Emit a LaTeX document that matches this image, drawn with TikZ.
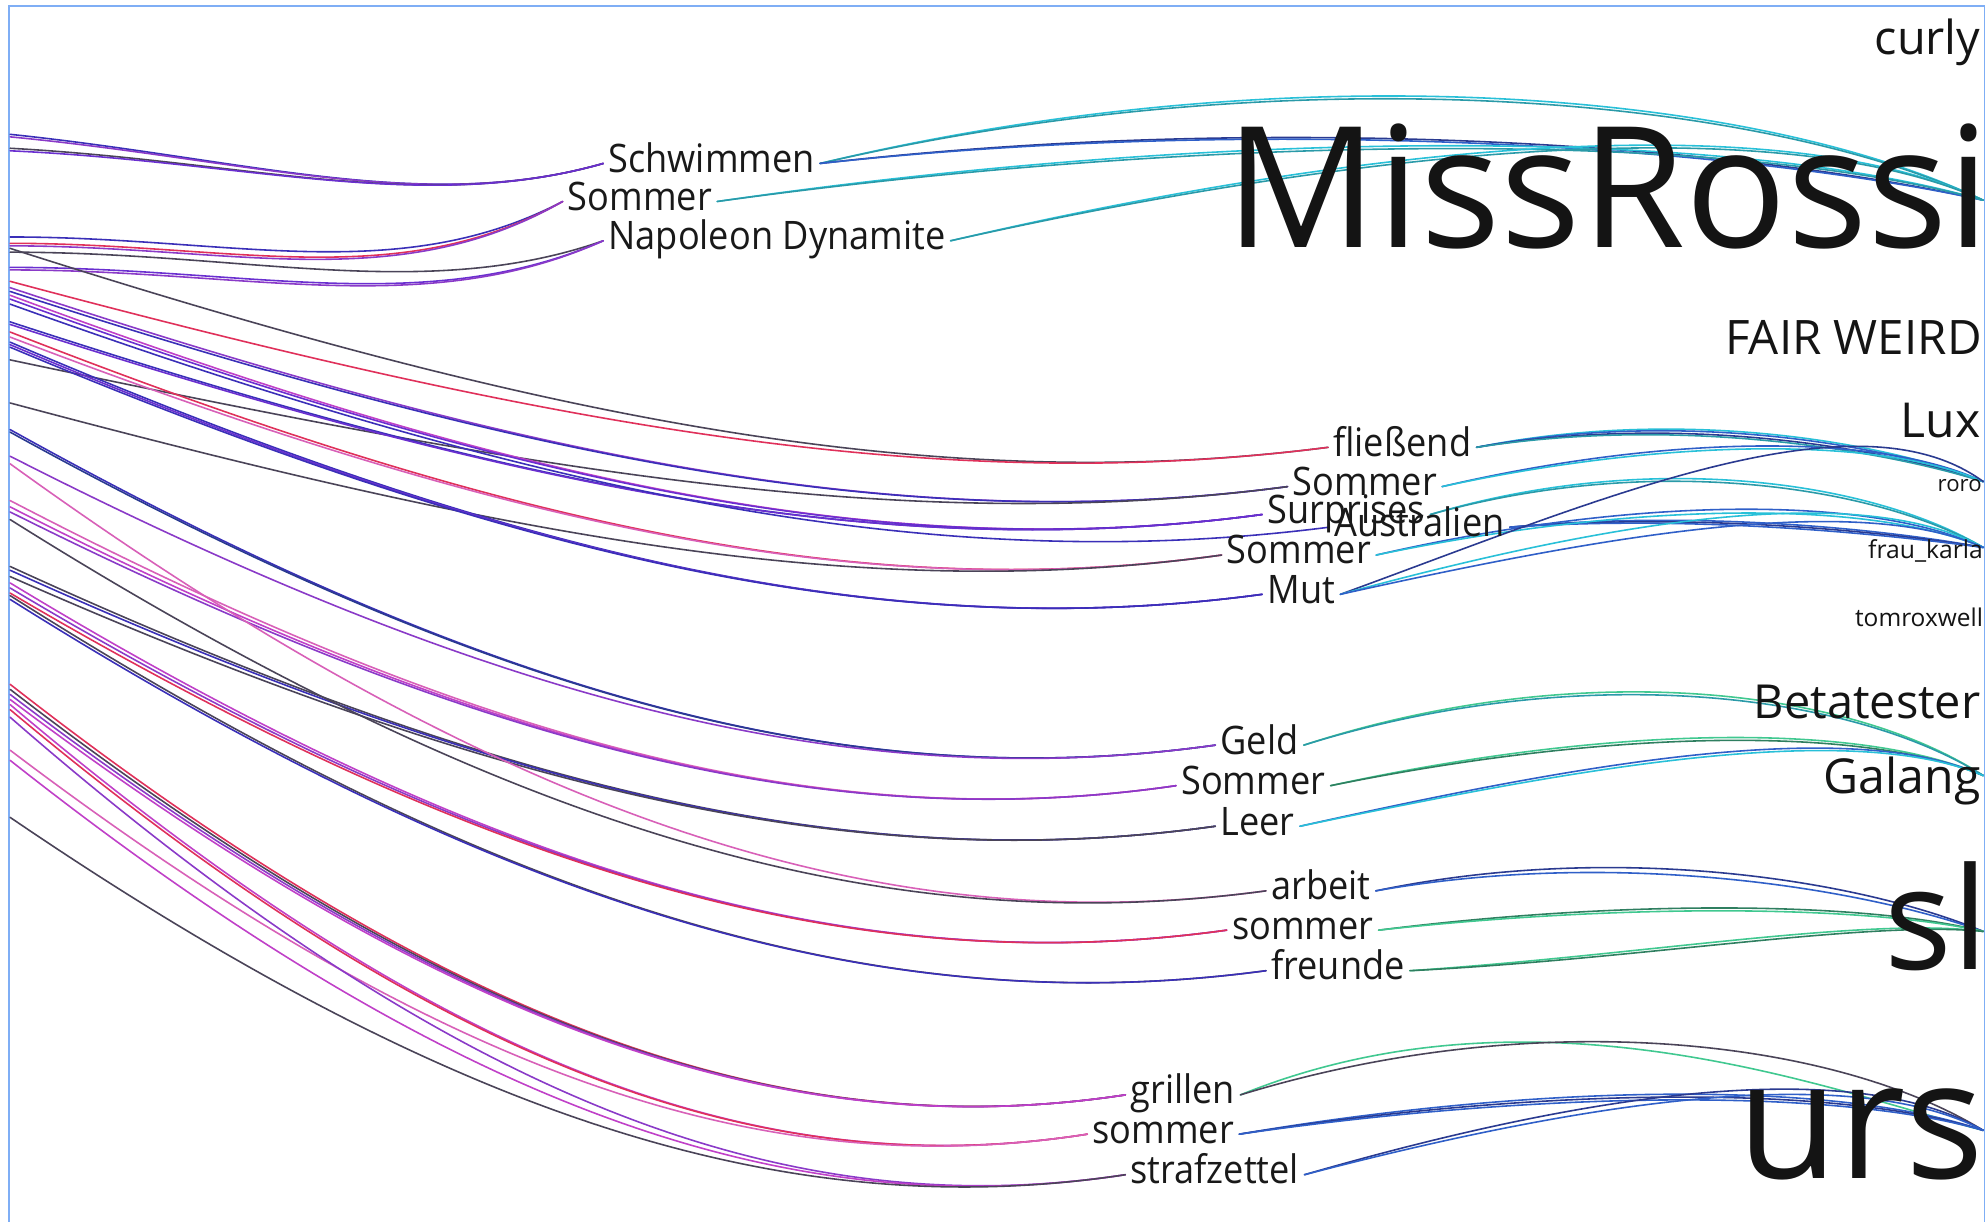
\documentclass[tikz,border=0pt]{standalone}
\usepackage{fontspec}
\setmainfont{Open Sans}
\newfontfamily\wordfont[FakeStretch=0.92]{Open Sans}
\usetikzlibrary{positioning, backgrounds, calc}

\definecolor{frameblue}{HTML}{7FAEF5}
\definecolor{violet1}{HTML}{6A2FD0}
\definecolor{purp}{HTML}{8A3AC8}
\definecolor{rosered}{HTML}{E0305A}
\definecolor{magen}{HTML}{C040C8}
\definecolor{pinkish}{HTML}{D860B8}
\definecolor{slate}{HTML}{4A4458}
\definecolor{indigo1}{HTML}{3A2FB8}
\definecolor{cyan1}{HTML}{28C0D8}
\definecolor{teal1}{HTML}{2A9AA8}
\definecolor{navy1}{HTML}{2A3A90}
\definecolor{blue1}{HTML}{2F5FC8}
\definecolor{green1}{HTML}{40C890}
\definecolor{green2}{HTML}{2F7F60}

\newcommand\txtsize[1]{\fontsize{#1}{#1}\selectfont}

\tikzset{
  word/.style={font=\wordfont\txtsize{31}, text=black!90, inner xsep=4pt, inner ysep=0pt,
    text height=14pt, text depth=0pt, anchor=base west},
  user/.style={text=black!92, inner sep=0pt, anchor=base east},
  curve/.style={line width=1.25pt, line cap=round},
  frame/.style={draw=frameblue, line width=1.4pt}
}

% lines coming in from the left edge: start y / colour
\newcommand\inlines[2]{%
  \foreach \sy/\col in {#2}{
    \coordinate (e#1\sy) at (8,\sy);
    \draw[curve, \col] let \p0 = (e#1\sy), \p1 = (#1.west) in
      (\p0) .. controls ({\x0+0.4*(\x1-\x0)}, {\y0+0.85*min(\y1-\y0,0)})
                   and ({\x1-0.3*(\x1-\x0)}, {min(\y0,\y1)-40pt}) .. (\p1);
  }}

% arcs from a word to a user: lift1 / lift2 / colour
\newcommand\outlines[3]{%
  \foreach \la/\lb/\col in {#3}{
    \draw[curve, \col] let \p0 = (#1.east), \p1 = (#2) in
      (\p0) .. controls ({\x0+0.4*(\x1-\x0)}, {\y0+\la*1pt})
                   and ({\x1-0.2*(\x1-\x0)}, {\y1+\lb*1pt}) .. (\p1);
  }}

\begin{document}
\begin{tikzpicture}[x=1pt, y=-1pt]
\useasboundingbox (0,0) rectangle (1568,964);

% users
\node[user, font={\txtsize{37}}] (curly) at (1563,43) {curly};
\node[user, font={\txtsize{133}}] (rossi) at (1571,195) {MissRossi};
\node[user, font={\txtsize{37.5}}] (fair) at (1564,280) {FAIR WEIRD};
\node[user, font={\txtsize{38}}] (lux) at (1563,345) {Lux};
\node[user, font={\txtsize{17.5}}] (roro) at (1564,388) {roro};
\node[user, font={\txtsize{19.5}}] (karla) at (1565,441) {frau\_karla};
\node[user, font={\txtsize{19.3}}] (tom) at (1565,494) {tomroxwell};
\node[user, font={\txtsize{37}}] (beta) at (1563,567) {Betatester};
\node[user, font={\txtsize{38}}] (galang) at (1563,626) {Galang};
\node[user, font={\txtsize{112}}] (sl) at (1569,765) {sl};
\node[user, font={\txtsize{130}}] (urs) at (1566,930) {urs};

\coordinate (rossi-in) at ([xshift=-6pt, yshift=37pt]rossi.base east);
\coordinate (roro-in) at ([xshift=1pt, yshift=8pt]roro.base east);
\coordinate (karla-in) at ([yshift=9pt]karla.base east);
\coordinate (galang-in) at ([xshift=2pt, yshift=14pt]galang.base east);
\coordinate (sl-in) at ([xshift=-4pt, yshift=30pt]sl.base east);
\coordinate (urs-in) at ([xshift=-1pt, yshift=38pt]urs.base east);

% words
\node[word] (schwimmen) at (476,136) {Schwimmen};
\node[word, below left=30pt and 32pt of schwimmen.base west, anchor=base west] (sommerA) {Sommer};
\node[word, below right=31pt and 32pt of sommerA.base west, anchor=base west] (napoleon) {Napoleon Dynamite};

\node[word] (fliessend) at (1048,360) {fließend};
\node[word, below left=31pt and 32pt of fliessend.base west, anchor=base west] (sommerB) {Sommer};
\node[word, below left=22pt and 20pt of sommerB.base west, anchor=base west] (surprises) {Surprises};
\node[word, below right=10pt and 53pt of surprises.base west, anchor=base west] (australien) {Australien};
\node[word, below left=22pt and 85pt of australien.base west, anchor=base west] (sommerC) {Sommer};
\node[word, below right=31pt and 32pt of sommerC.base west, anchor=base west] (mut) {Mut};

\node[word] (geld) at (959,595) {Geld};
\node[word, below left=32pt and 31pt of geld.base west, anchor=base west] (sommerD) {Sommer};
\node[word, below right=32pt and 31pt of sommerD.base west, anchor=base west] (leer) {Leer};

\node[word] (arbeit) at (999,710) {arbeit};
\node[word, below left=31pt and 31pt of arbeit.base west, anchor=base west] (sommerE) {sommer};
\node[word, below right=32pt and 31pt of sommerE.base west, anchor=base west] (freunde) {freunde};

\node[word] (grillen) at (888,871) {grillen};
\node[word, below left=31pt and 30pt of grillen.base west, anchor=base west] (sommerF) {sommer};
\node[word, below right=32pt and 30pt of sommerF.base west, anchor=base west] (strafzettel) {strafzettel};

\begin{scope}[on background layer]
\fill[white] (0,0) rectangle (1568,964);
\draw[frame] (7,970) |- (1566,5) -- (1566,970);

\inlines{schwimmen}{106/indigo1, 108/purp, 117/slate, 119/violet1}
\inlines{sommerA}{187/indigo1, 192/rosered, 194/purp}
\inlines{napoleon}{199/slate, 211/violet1, 213/purp}
\inlines{fliessend}{196/slate, 222/rosered}
\inlines{sommerB}{227/purp, 230/indigo1, 284/slate}
\inlines{surprises}{233/magen, 236/violet1, 254/indigo1, 256/violet1}
\inlines{australien}{240/indigo1}
\inlines{sommerC}{262/rosered, 266/pinkish, 318/slate}
\inlines{mut}{270/indigo1, 272/violet1, 274/indigo1}
\inlines{geld}{339/indigo1, 341/navy1, 360/purp}
\inlines{sommerD}{395/pinkish, 400/magen, 404/purp}
\inlines{leer}{447/slate, 450/indigo1, 455/slate}
\inlines{arbeit}{366/pinkish, 410/slate}
\inlines{sommerE}{460/magen, 464/purp, 468/rosered}
\inlines{freunde}{470/slate, 473/indigo1}
\inlines{grillen}{540/rosered, 544/slate, 548/purp, 552/magen}
\inlines{sommerF}{556/magen, 560/rosered, 592/pinkish}
\inlines{strafzettel}{566/purp, 600/magen, 645/slate}

\outlines{schwimmen}{rossi-in}{88/88/cyan1, 85/85/teal1, 42/42/navy1, 40/40/blue1}
\outlines{sommerA}{rossi-in}{58/58/cyan1, 55/55/teal1}
\outlines{napoleon}{rossi-in}{76/76/cyan1, 73/73/teal1}
\outlines{fliessend}{roro-in}{32/32/cyan1, 30/30/blue1, 27/27/navy1, 25/25/teal1}
\outlines{sommerB}{roro-in}{40/40/blue1, 37/37/cyan1}
\outlines{surprises}{karla-in}{52/52/cyan1, 49/49/teal1}
\outlines{australien}{karla-in}{14/14/blue1, 12/12/navy1, 10/10/blue1}
\outlines{sommerC}{karla-in}{44/44/blue1, 40/40/cyan1}
\outlines{mut}{roro-in}{74/74/navy1}
\outlines{mut}{karla-in}{55/55/cyan1, 45/45/blue1}
\outlines{geld}{galang-in}{70/70/green1, 67/67/teal1}
\outlines{sommerD}{galang-in}{45/45/green1, 42/42/green2}
\outlines{leer}{galang-in}{48/48/blue1, 45/45/cyan1}
\outlines{arbeit}{sl-in}{40/40/navy1, 34/34/blue1}
\outlines{sommerE}{sl-in}{24/24/green2, 21/21/green1}
\outlines{freunde}{sl-in}{12/12/green1, 9/9/green2}
\outlines{grillen}{urs-in}{95/30/green1, 72/72/slate}
\outlines{sommerF}{urs-in}{40/40/blue1, 37/37/navy1, 34/34/blue1}
\outlines{strafzettel}{urs-in}{62/62/navy1, 56/56/blue1}
\end{scope}
\end{tikzpicture}
\end{document}
